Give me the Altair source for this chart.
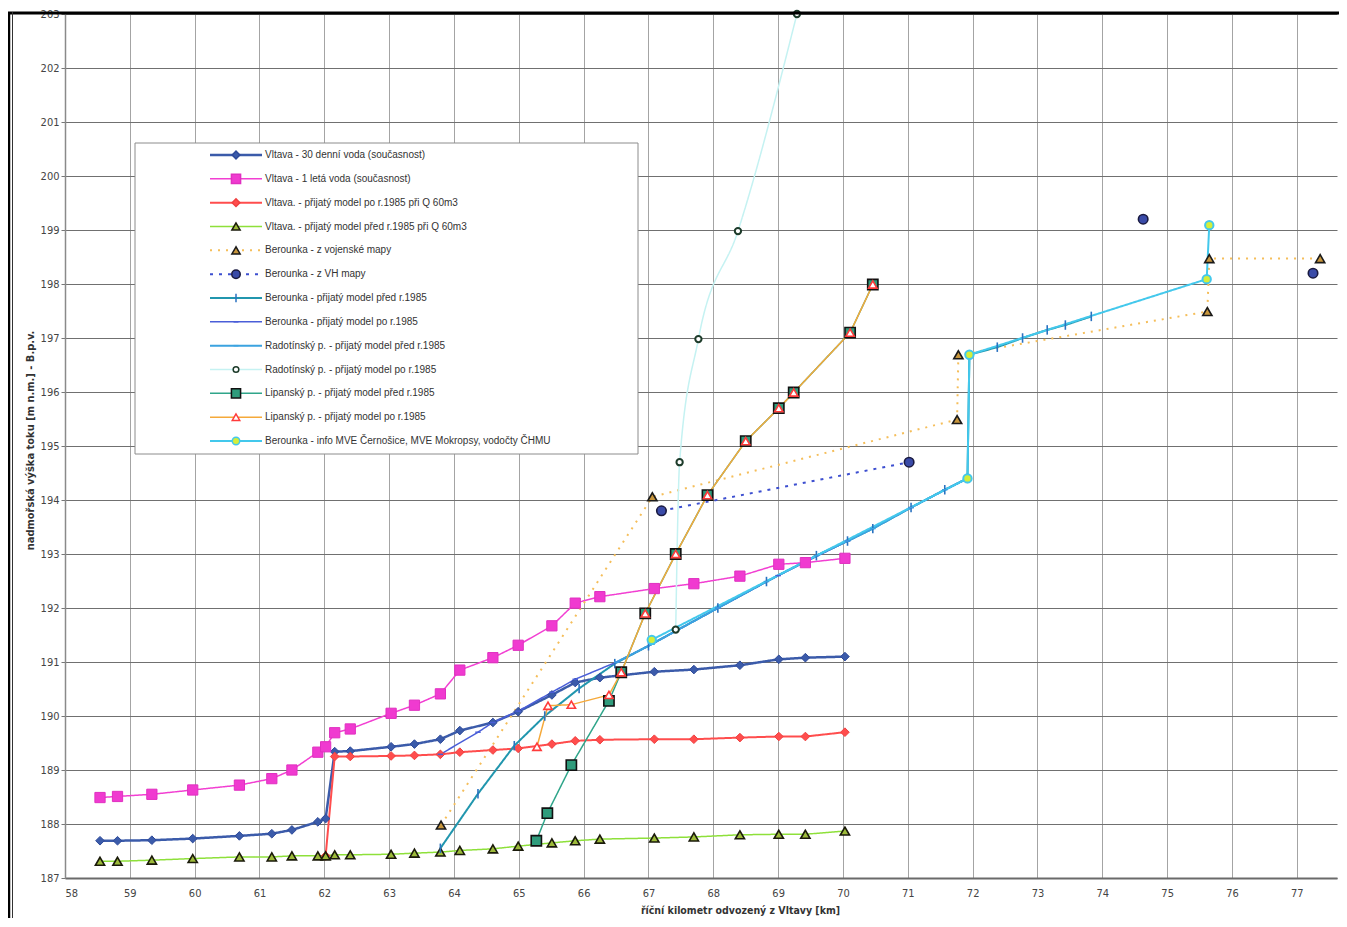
import altair as alt
import pandas as pd

TITLE = "Obrázek č. 14: Výškové profily povrchových toků"
X_TITLE = "říční kilometr odvozený z Vltavy [km]"
Y_TITLE = "nadmořská výška toku [m n.m.] - B.p.v."

X_TICKS = list(range(58, 78))
Y_TICKS = list(range(187, 204))

SERIES_NAMES = [
    "Vltava - 30 denní voda (současnost)",
    "Vltava - 1 letá voda (současnost)",
    "Vltava. - přijatý model po r.1985 při Q 60m3",
    "Vltava. - přijatý model před r.1985 při Q 60m3",
    "Berounka - z vojenské mapy",
    "Berounka - z VH mapy",
    "Berounka - přijatý model před r.1985",
    "Berounka - přijatý model po r.1985",
    "Radotínský p. - přijatý model před r.1985",
    "Radotínský p. - přijatý model po r.1985",
    "Lipanský p. - přijatý model před r.1985",
    "Lipanský p. - přijatý model po r.1985",
    "Berounka - info MVE Černošice, MVE Mokropsy, vodočty ČHMU",
]

# ---- data ----
VLTAVA_KM = [58.54, 58.81, 59.34, 59.97, 60.69, 61.19, 61.50, 61.90, 62.02, 62.16,
             62.40, 63.03, 63.39, 63.79, 64.09, 64.60, 64.99, 65.51, 65.87, 66.25,
             67.09, 67.70, 68.41, 69.01, 69.42, 70.03]
VLTAVA_30D = [187.69, 187.69, 187.70, 187.73, 187.78, 187.82, 187.89, 188.04, 188.10, 189.34,
              189.35, 189.43, 189.48, 189.57, 189.73, 189.88, 190.08, 190.39, 190.62, 190.71,
              190.82, 190.86, 190.94, 191.05, 191.08, 191.10]
VLTAVA_1Y = [188.49, 188.51, 188.55, 188.63, 188.72, 188.84, 189.00, 189.33, 189.43, 189.69,
             189.76, 190.05, 190.20, 190.41, 190.85, 191.08, 191.31, 191.67, 192.09, 192.21,
             192.36, 192.45, 192.59, 192.81, 192.84, 192.92]
VLTAVA_PO_KM = [62.02, 62.16, 62.40, 63.03, 63.39, 63.79, 64.09, 64.60, 64.99, 65.51,
                65.87, 66.25, 67.09, 67.70, 68.41, 69.01, 69.42, 70.03]
VLTAVA_PO = [187.41, 189.25, 189.25, 189.26, 189.27, 189.29, 189.33, 189.37, 189.40, 189.48,
             189.54, 189.56, 189.57, 189.57, 189.60, 189.62, 189.62, 189.70]
VLTAVA_PRED = [187.31, 187.31, 187.33, 187.36, 187.39, 187.39, 187.41, 187.41, 187.41, 187.43,
               187.43, 187.44, 187.46, 187.48, 187.51, 187.54, 187.59, 187.65, 187.69, 187.72,
               187.74, 187.76, 187.80, 187.81, 187.81, 187.87]

BER_VOJ_KM = [63.80, 67.06, 71.76, 71.78, 75.62, 75.65, 77.36]
BER_VOJ = [187.98, 194.06, 195.49, 196.69, 197.49, 198.47, 198.47]

BER_VH_KM = [67.20, 71.02, 74.63, 77.25]
BER_VH = [193.80, 194.70, 199.20, 198.20]
BER_VH_SEG = [0, 0, 1, 2]

BER_PRED_KM = [63.79, 64.37, 64.93, 65.40, 65.93, 66.48, 67.00, 68.07, 68.82, 69.59,
               70.07, 70.46, 71.05, 71.57, 71.92, 71.95, 72.38, 72.77, 73.15, 73.43, 73.83]
BER_PRED = [187.55, 188.56, 189.45, 190.00, 190.51, 190.97, 191.30, 192.00, 192.49, 192.97,
            193.24, 193.47, 193.86, 194.19, 194.40, 196.69, 196.83, 197.00, 197.15, 197.24, 197.40]

BER_PO_KM = [63.79, 64.37, 64.60, 64.99, 65.51, 65.87, 66.51, 67.05, 68.07, 69.00,
             70.07, 71.05, 71.92]
BER_PO = [189.29, 189.70, 189.88, 190.09, 190.44, 190.68, 191.00, 191.33, 192.00, 192.60,
          193.24, 193.86, 194.40]

RAD_PRED_KM = [66.51, 67.05, 68.07, 68.82, 69.59, 70.07, 70.46, 71.05, 71.57, 71.92]
RAD_PRED = [191.00, 191.33, 192.00, 192.49, 192.97, 193.24, 193.47, 193.86, 194.19, 194.40]

RAD_PO_KM = [67.42, 67.48, 67.77, 68.38, 69.29]
RAD_PO = [191.60, 194.70, 196.98, 198.98, 203.00]

LIP_PRED_KM = [65.27, 65.44, 65.81, 66.39, 66.58, 66.95, 67.42, 67.91, 68.50, 69.01,
               69.24, 70.11, 70.46]
LIP_PRED = [187.69, 188.20, 189.09, 190.28, 190.81, 191.90, 193.00, 194.09, 195.09, 195.70,
            195.99, 197.10, 197.99]

LIP_PO_KM = [65.28, 65.45, 65.81, 66.39, 66.58, 66.95, 67.42, 67.91, 68.50, 69.01,
             69.24, 70.11, 70.46]
LIP_PO = [189.43, 190.19, 190.21, 190.39, 190.81, 191.90, 193.00, 194.09, 195.09, 195.70,
          195.99, 197.10, 197.99]

BER_INFO_KM = [67.05, 71.92, 71.95, 75.61, 75.65]
BER_INFO = [191.41, 194.40, 196.69, 198.09, 199.09]

SERIES_DATA = [
    (VLTAVA_KM, VLTAVA_30D, None),
    (VLTAVA_KM, VLTAVA_1Y, None),
    (VLTAVA_PO_KM, VLTAVA_PO, None),
    (VLTAVA_KM, VLTAVA_PRED, None),
    (BER_VOJ_KM, BER_VOJ, None),
    (BER_VH_KM, BER_VH, BER_VH_SEG),
    (BER_PRED_KM, BER_PRED, None),
    (BER_PO_KM, BER_PO, None),
    (RAD_PRED_KM, RAD_PRED, None),
    (RAD_PO_KM, RAD_PO, None),
    (LIP_PRED_KM, LIP_PRED, None),
    (LIP_PO_KM, LIP_PO, None),
    (BER_INFO_KM, BER_INFO, None),
]

# ---- styles ----
TICK_V = "M0,-1L0,1"
TICK_H = "M-1,0L1,0"
STYLE = [
    dict(line="#3B5BAA", w=2.5, dash=[1, 0], shape="diamond", fill="#3B5BAA", stroke="#2E4A99", size=75, sw=1),
    dict(line="#F23FD2", w=1.5, dash=[1, 0], shape="square", fill="#F03AD0", stroke="#E030C0", size=105, sw=1),
    dict(line="#FF4D4D", w=2, dash=[1, 0], shape="diamond", fill="#FF4D4D", stroke="#F04040", size=75, sw=1),
    dict(line="#8EE03A", w=1.5, dash=[1, 0], shape="triangle-up", fill="#9DBA3A", stroke="#1A1A0A", size=85, sw=1.6),
    dict(line="#F5BE5A", w=2, dash=[2, 6], shape="triangle-up", fill="#C8963C", stroke="#1A1A1A", size=85, sw=1.6),
    dict(line="#3D4FD0", w=2, dash=[3, 6], shape="circle", fill="#3A4BA8", stroke="#1A1A40", size=90, sw=1.6),
    dict(line="#2196AE", w=2, dash=[1, 0], shape=TICK_V, fill="#2A72C0", stroke="#2A72C0", size=90, sw=1.6),
    dict(line="#4A5ED8", w=1.5, dash=[1, 0], shape=TICK_H, fill="#4A5ED8", stroke="#4A5ED8", size=30, sw=1.5),
    dict(line="#3BA3E0", w=2, dash=[1, 0], shape=TICK_H, fill="#3BA3E0", stroke="#3BA3E0", size=30, sw=1.5),
    dict(line="#C5F2F2", w=1.5, dash=[1, 0], shape="circle", fill="#FFFFFF", stroke="#1D3B2A", size=40, sw=2),
    dict(line="#2FA58A", w=1.5, dash=[1, 0], shape="square", fill="#2F9C7C", stroke="#111111", size=105, sw=1.6),
    dict(line="#F5A93A", w=1.5, dash=[1, 0], shape="triangle-up", fill="#FFFFFF", stroke="#FF3B3B", size=70, sw=1.6),
    dict(line="#43C8EC", w=2, dash=[1, 0], shape="circle", fill="#D4EE3A", stroke="#43C8EC", size=70, sw=2),
]
INTERP = {9: "monotone"}

rows = []
for name, (kms, hs, segs) in zip(SERIES_NAMES, SERIES_DATA):
    for i, (k, h) in enumerate(zip(kms, hs)):
        rows.append({"series": name, "km": k, "h": h, "idx": i,
                     "seg": segs[i] if segs else 0})
df = pd.DataFrame(rows)

PLOT_W = 1272
PLOT_H = 864
NARROW = "Liberation Sans Narrow, DejaVu Sans Condensed, Arial Narrow, sans-serif"

X_ENC = alt.X("km:Q",
              scale=alt.Scale(domain=[58, 77.62], nice=False, zero=False),
              axis=alt.Axis(values=X_TICKS, title=X_TITLE, format="d",
                            grid=True, gridColor="#A4A4A4", gridWidth=1,
                            domainColor="#6A6A6A", domainWidth=2,
                            tickSize=0, labelPadding=9,
                            labelFont=NARROW, labelFontSize=11, labelColor="#444",
                            titleFont=NARROW, titleFontSize=10.5, titleFontWeight="bold",
                            titleColor="#333", titleX=675, titleY=32,
                            titleBaseline="middle", titleAlign="center"))
Y_ENC = alt.Y("h:Q",
              scale=alt.Scale(domain=[187, 203], nice=False, zero=False),
              axis=alt.Axis(values=Y_TICKS, title=Y_TITLE, format="d",
                            grid=True, gridColor="#707070", gridWidth=1.2,
                            domainColor="#8A8A8A", domainWidth=1.5,
                            tickSize=4, tickColor="#777", labelPadding=2,
                            labelFont=NARROW, labelFontSize=11, labelColor="#444",
                            titleFont=NARROW, titleFontSize=11, titleFontWeight="bold",
                            titleColor="#333", titleX=-35, titleY=426, titleAngle=270,
                            titleBaseline="middle", titleAlign="center"))

base = alt.Chart(df)
layers = []
for i, name in enumerate(SERIES_NAMES):
    st = STYLE[i]
    sub = base.transform_filter(alt.datum.series == name)
    line_kw = dict(color=st["line"], strokeWidth=st["w"], strokeDash=st["dash"])
    if i in INTERP:
        line_kw["interpolate"] = INTERP[i]
    layers.append(sub.mark_line(**line_kw).encode(
        x=X_ENC, y=Y_ENC, detail="seg:N", order=alt.Order("idx:Q")))
for i, name in enumerate(SERIES_NAMES):
    st = STYLE[i]
    sub = base.transform_filter(alt.datum.series == name)
    layers.append(sub.mark_point(shape=st["shape"], filled=True, fill=st["fill"],
                                 stroke=st["stroke"], strokeWidth=st["sw"],
                                 size=st["size"], opacity=1).encode(x=X_ENC, y=Y_ENC))
main = alt.layer(*layers)

# ---- legend box ----
legend_df = pd.DataFrame({"name": SERIES_NAMES, "row": list(range(len(SERIES_NAMES)))})
LEG_Y = alt.Y("row:O", scale=alt.Scale(type="point", domain=list(range(len(SERIES_NAMES))),
                                       range=[141, 427], padding=0), axis=None)

def sc(key):
    return alt.Scale(domain=SERIES_NAMES, range=[s[key] for s in STYLE])

dummy = pd.DataFrame({"d": [0]})
box = alt.Chart(dummy).mark_rect(fill="white", stroke="#8C8C8C", strokeWidth=1).encode(
    x=alt.value(70), x2=alt.value(573), y=alt.value(129), y2=alt.value(440))
leg_rules = alt.Chart(legend_df).mark_rule().encode(
    x=alt.value(145), x2=alt.value(197), y=LEG_Y,
    color=alt.Color("name:N", scale=sc("line"), legend=None),
    strokeDash=alt.StrokeDash("name:N", scale=sc("dash"), legend=None),
    strokeWidth=alt.StrokeWidth("name:N", scale=alt.Scale(type="ordinal", domain=SERIES_NAMES,
                                                          range=[s["w"] for s in STYLE]), legend=None))
leg_pts = alt.Chart(legend_df).mark_point(filled=True, strokeWidth=1.5, opacity=1).encode(
    x=alt.value(171), y=LEG_Y,
    shape=alt.Shape("name:N", scale=sc("shape"), legend=None),
    fill=alt.Fill("name:N", scale=sc("fill"), legend=None),
    stroke=alt.Stroke("name:N", scale=sc("stroke"), legend=None),
    size=alt.Size("name:N", scale=alt.Scale(type="ordinal", domain=SERIES_NAMES,
                                            range=[s["size"] * 0.8 for s in STYLE]), legend=None))
leg_text = alt.Chart(legend_df).mark_text(align="left", baseline="middle", fontSize=10,
                                          font="Liberation Sans", color="#333").encode(
    x=alt.value(200), y=LEG_Y, text="name:N")

# ---- page frame ----
frame_top = alt.Chart(dummy).mark_rule(color="black", strokeWidth=3).encode(
    x=alt.value(-57), x2=alt.value(PLOT_W + 2), y=alt.value(-1))
frame_left = alt.Chart(dummy).mark_rule(color="black", strokeWidth=2.5).encode(
    x=alt.value(-56), y=alt.value(-2), y2=alt.value(PLOT_H + 40))
frame_left2 = alt.Chart(dummy).mark_rule(color="#333", strokeWidth=1).encode(
    x=alt.value(-52.5), y=alt.value(-2), y2=alt.value(PLOT_H + 40))

legend = alt.layer(box, leg_rules, leg_pts, leg_text, frame_top, frame_left, frame_left2)

chart = alt.layer(main, legend).resolve_scale(y="independent").properties(
    width=PLOT_W, height=PLOT_H,
    autosize=alt.AutoSizeParams(type="none"),
    padding={"left": 57, "top": 6, "right": 2, "bottom": 40},
    title=alt.Title(TITLE, font="Liberation Serif", fontSize=21, fontWeight="bold",
                    anchor="middle", dx=-89, offset=3, baseline="alphabetic", color="black"),
    background="white",
).configure_view(stroke=None)

chart.save("out.html", embed_options={"renderer": "svg", "actions": False})
